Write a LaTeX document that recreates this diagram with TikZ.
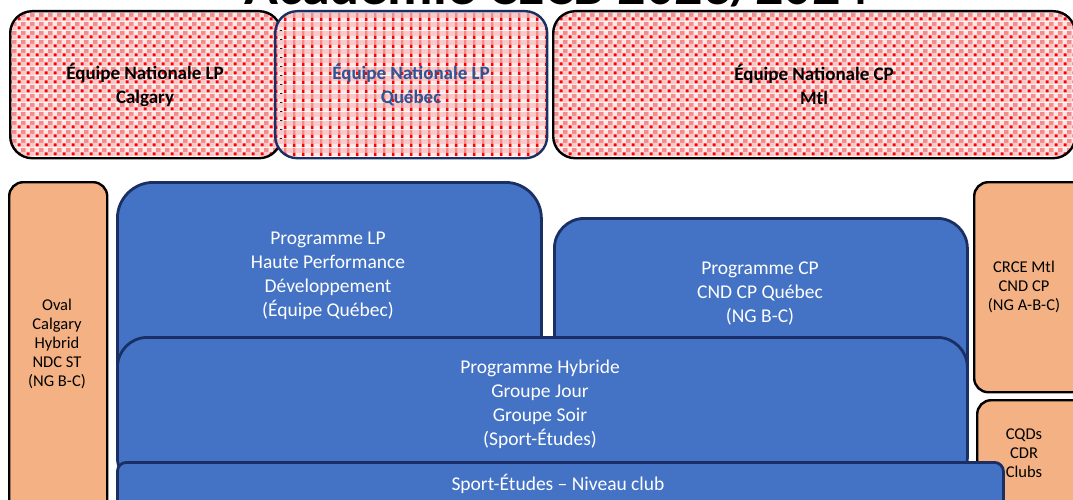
\documentclass[tikz,border=0pt]{standalone}
\usepackage{fontspec}
\setmainfont{Carlito}
\usetikzlibrary{patterns}
\definecolor{navy}{HTML}{1A2F63}
\definecolor{bluefill}{HTML}{4472C4}
\definecolor{orangefill}{HTML}{F4B183}
\definecolor{qctext}{HTML}{2F5597}
\definecolor{pkbase}{HTML}{FDE6E6}
\definecolor{pksalmon}{HTML}{F58A8A}
\definecolor{pkred}{HTML}{FF0000}
\definecolor{pkmid}{HTML}{F9C8C8}
\pgfdeclarepatterninherentlycolored{redcheck}{\pgfpointorigin}{\pgfqpoint{8.6pt}{8.6pt}}{\pgfqpoint{8.6pt}{8.6pt}}{%
 \pgfsetfillcolor{pkbase}\pgfpathrectangle{\pgfpointorigin}{\pgfqpoint{8.6pt}{8.6pt}}\pgfusepath{fill}%
 \pgfsetfillcolor{pksalmon}\pgfpathrectangle{\pgfqpoint{4.3pt}{4.3pt}}{\pgfqpoint{4.3pt}{4.3pt}}\pgfusepath{fill}%
 \pgfsetfillcolor{pkmid}\pgfpathrectangle{\pgfqpoint{4.3pt}{0pt}}{\pgfqpoint{4.3pt}{4.3pt}}\pgfusepath{fill}%
 \pgfsetfillcolor{pkred}\pgfpathrectangle{\pgfqpoint{0.6pt}{0.6pt}}{\pgfqpoint{3.1pt}{3.1pt}}\pgfusepath{fill}%
}
\pgfdeclarepatterninherentlycolored{redplaid}{\pgfpointorigin}{\pgfqpoint{8.6pt}{8.6pt}}{\pgfqpoint{8.6pt}{8.6pt}}{%
 \pgfsetfillcolor{pkmid}\pgfpathrectangle{\pgfpointorigin}{\pgfqpoint{8.6pt}{8.6pt}}\pgfusepath{fill}%
 \pgfsetfillcolor{pkbase}\pgfpathrectangle{\pgfpointorigin}{\pgfqpoint{8.6pt}{3.2pt}}\pgfusepath{fill}%
 \pgfsetfillcolor{pksalmon}\pgfpathrectangle{\pgfpointorigin}{\pgfqpoint{2.6pt}{8.6pt}}\pgfusepath{fill}%
 \pgfsetfillcolor{pkred}\pgfpathrectangle{\pgfpointorigin}{\pgfqpoint{2.6pt}{3.2pt}}\pgfusepath{fill}%
}
\tikzset{
  box/.style={rectangle, inner sep=0pt, anchor=north west, line width=2.4pt},
  checkbox/.style={box, draw=black, pattern=redcheck, rounded corners=22pt},
  plaidbox/.style={box, draw=navy, pattern=redplaid, rounded corners=22pt},
  bluebox/.style={box, draw=navy, fill=bluefill, line width=2.8pt},
  orbox/.style={box, draw=black, fill=orangefill, rounded corners=14pt},
  toptxt/.style={align=center, font=\bfseries\fontsize{19}{24}\selectfont},
  bluetxt/.style={align=center, text=white, font=\fontsize{19.5}{24}\selectfont},
  ortxt/.style={align=center, font=\fontsize{16.5}{19}\selectfont},
}
\begin{document}
\begin{tikzpicture}[x=1pt,y=-1pt]
\useasboundingbox (0,0) rectangle (1073,500);
\node[font=\bfseries\fontsize{56}{60}\selectfont, anchor=base] (title) at (557,5) {Académie CECB 2023/2024};
% top boxes
\node[checkbox, minimum width=271pt, minimum height=147pt] (cal) at (9,10) {};
\node[plaidbox, minimum width=272pt, minimum height=147pt] (qc) at (274,10) {};
\node[checkbox, minimum width=522pt, minimum height=147pt] (mtl) at (552,10) {};
\node[toptxt] (calt) at (145,85) {Équipe Nationale LP\\Calgary};
\node[toptxt, text=qctext] (qct) at (411,85) {Équipe Nationale LP\\Québec};
\node[toptxt] (mtlt) at (814,85) {Équipe Nationale CP\\Mtl};
% side boxes
\node[orbox, minimum width=98pt, minimum height=340pt] (ovl) at (8,181) {};
\node[orbox, minimum width=120pt, minimum height=210pt] (crce) at (973,181) {};
\node[orbox, minimum width=120pt, minimum height=130pt] (cqd) at (976,399) {};
% blue boxes
\node[bluebox, rounded corners=36pt, minimum width=424pt, minimum height=230pt] (lp) at (116,181) {};
\node[bluebox, rounded corners=30pt, minimum width=413pt, minimum height=190pt] (cp) at (553,217) {};
\node[bluebox, rounded corners=30pt, minimum width=850pt, minimum height=150pt] (hyb) at (116,336) {};
\node[bluebox, rounded corners=9pt, minimum width=886pt, minimum height=60pt] (se) at (116,461) {};
% texts
\node[bluetxt] (lpt) at (328,276) {Programme LP\\Haute Performance\\Développement\\(Équipe Québec)};
\node[bluetxt] (cpt) at (760,294) {Programme CP\\CND CP Québec\\(NG B-C)};
\node[bluetxt] (hybt) at (540,404) {Programme Hybride\\Groupe Jour\\Groupe Soir\\(Sport-Études)};
\node[bluetxt] (set) at (558,484) {Sport-Études – Niveau club};
\node[ortxt] (ovlt) at (57,344) {Oval\\Calgary\\Hybrid\\NDC ST\\(NG B-C)};
\node[ortxt] (crcet) at (1024,287) {CRCE Mtl\\CND CP\\(NG A-B-C)};
\node[ortxt] (cqdt) at (1024,453) {CQDs\\CDR\\Clubs};
\end{tikzpicture}
\end{document}
